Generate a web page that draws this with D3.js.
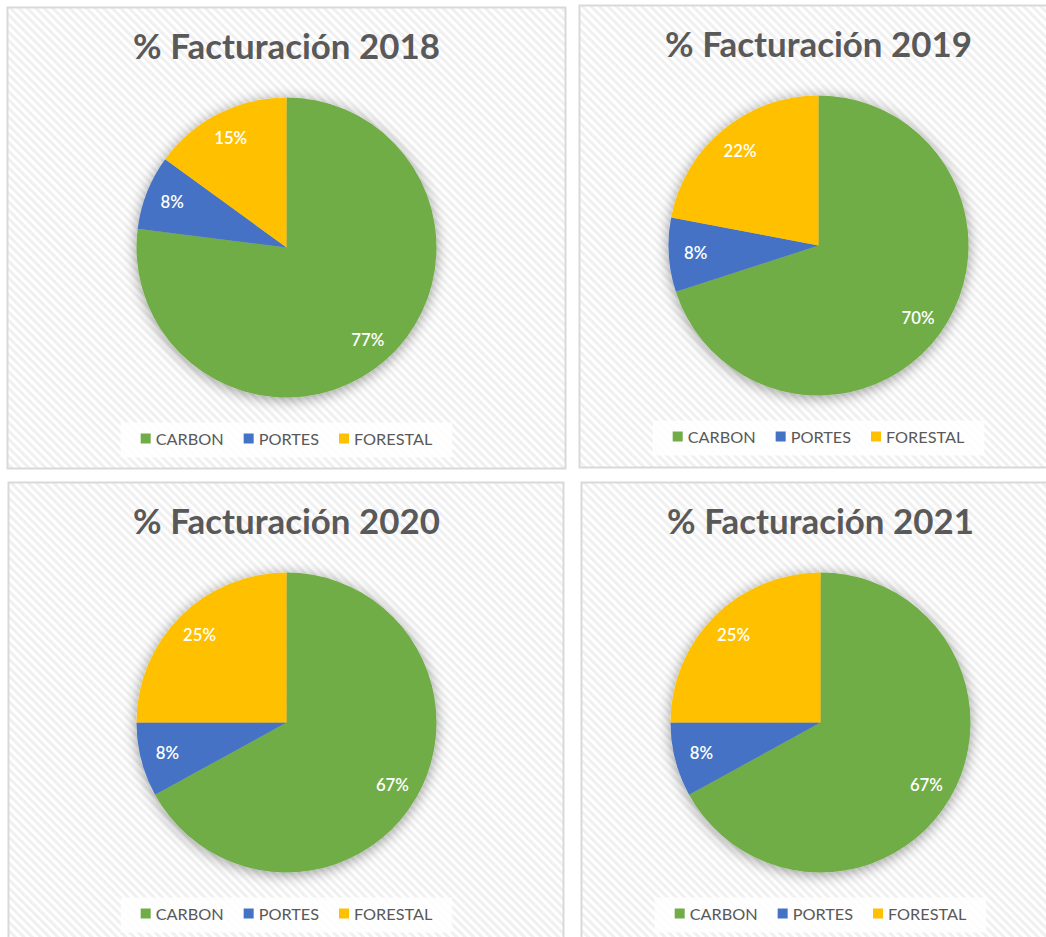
<!DOCTYPE html>
<html><head><meta charset="utf-8">
<script src="https://cdn.jsdelivr.net/npm/d3@7"></script>
<style>body{margin:0;background:#fff} svg{display:block}</style>
</head><body><svg id="c" width="1046" height="937"></svg>
<script>
// ---- data ----
const categories = ["CARBON", "PORTES", "FORESTAL"];
const years = ["2018", "2019", "2020", "2021"];
const carbon = [77, 70, 67, 67];
const portes = [8, 8, 8, 8];
const forestal = [15, 22, 25, 25];
const titlePrefix = "% Facturación ";

// ---- styles / layout ----
const colors = ["#70AD47", "#4472C4", "#FFC000"];
const textColor = "#595959";
const FONT = "Lato, 'Open Sans', sans-serif";
const panels = [
  {x: 7.5,   y: 7.5,   w: 558, h: 461, cx: 279},
  {x: 579.5, y: 5.5,   w: 479, h: 462, cx: 239},
  {x: 8.5,   y: 482.5, w: 555, h: 470, cx: 278},
  {x: 581.5, y: 482.5, w: 479, h: 470, cx: 239}
];
const R = 150, CY = 240;

const svg = d3.select("#c");
const defs = svg.append("defs");
const pat = defs.append("pattern").attr("id", "hatch").attr("patternUnits", "userSpaceOnUse")
  .attr("width", 6).attr("height", 6).attr("patternTransform", "rotate(-45)");
pat.append("rect").attr("width", 6).attr("height", 6).attr("fill", "#ffffff");
pat.append("rect").attr("width", 3).attr("height", 6).attr("fill", "#f0f0f0");

const flt = defs.append("filter").attr("id", "shadow").attr("x", "-20%").attr("y", "-20%").attr("width", "140%").attr("height", "140%");
flt.append("feDropShadow").attr("dx", 0).attr("dy", 2).attr("stdDeviation", 7)
  .attr("flood-color", "#000").attr("flood-opacity", 0.4);

// helper to fit text size to a target width
function fitSize(text, weight, target) {
  const t = svg.append("text").attr("font-family", FONT).attr("font-weight", weight)
    .attr("font-size", 100).text(text);
  const w = t.node().getComputedTextLength();
  t.remove();
  return 100 * target / w;
}
const titleSize = fitSize(titlePrefix + "2018", 700, 307);
const legendSize = fitSize("CARBON", 400, 68);
const labelSize = fitSize("15%", 600, 33);

const pie = d3.pie().sort(null).value(d => d);
const arc = d3.arc().innerRadius(0).outerRadius(R);
const labelArc = d3.arc().innerRadius(R * 0.82).outerRadius(R * 0.82);

years.forEach((yr, i) => {
  const p = panels[i];
  const g = svg.append("g").attr("transform", `translate(${p.x},${p.y})`);
  g.append("rect").attr("width", p.w).attr("height", p.h)
    .attr("fill", "url(#hatch)").attr("stroke", "#d9d9d9").attr("stroke-width", 2);

  g.append("text").attr("x", p.cx).attr("y", 51).attr("text-anchor", "middle")
    .attr("font-family", FONT).attr("font-weight", 700).attr("font-size", titleSize)
    .attr("fill", textColor).text(titlePrefix + yr);

  const vals = [carbon[i], portes[i], forestal[i]];
  const arcs = pie(vals);
  const pg = g.append("g").attr("transform", `translate(${p.cx},${CY})`);
  pg.append("g").attr("filter", "url(#shadow)")
    .selectAll("path").data(arcs).join("path")
    .attr("d", arc).attr("fill", (d, j) => colors[j]);
  pg.selectAll("text").data(arcs).join("text")
    .attr("transform", d => `translate(${labelArc.centroid(d)})`)
    .attr("text-anchor", "middle").attr("dy", "0.35em")
    .attr("font-family", FONT).attr("font-weight", 600).attr("font-size", labelSize).attr("fill", "#fff")
    .text(d => d.data + "%");

  // legend
  const lg = g.append("g");
  const items = lg.selectAll("g").data(categories).join("g");
  items.append("rect").attr("width", 10).attr("height", 10).attr("y", -11)
    .attr("fill", (d, j) => colors[j]);
  const txts = items.append("text").attr("x", 15).attr("font-family", FONT)
    .attr("font-size", legendSize).attr("fill", textColor).text(d => d);
  let xoff = 0;
  items.each(function(d, j) {
    d3.select(this).attr("transform", `translate(${xoff},0)`);
    xoff += 15 + txts.nodes()[j].getComputedTextLength() + 20;
  });
  const totalW = xoff - 20;
  lg.insert("rect", ":first-child").attr("x", -20).attr("y", -22).attr("width", totalW + 40)
    .attr("height", 35).attr("fill", "#fff").attr("fill-opacity", 0.85);
  lg.attr("transform", `translate(${p.cx - totalW / 2},${437})`);
});
</script></body></html>
